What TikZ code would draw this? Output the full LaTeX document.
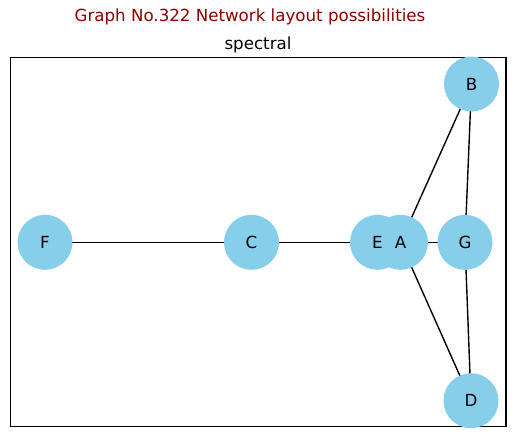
\documentclass[tikz,border=0pt]{standalone}
\usepackage{fontspec}
\setmainfont{DejaVu Sans}
\definecolor{nodeblue}{HTML}{87CEEB}
\definecolor{titlered}{HTML}{8B0000}
\begin{document}
\begin{tikzpicture}[x=0.72pt,y=-0.72pt,
  vertex/.style={circle,fill=nodeblue,minimum size=39.6pt,inner sep=0pt},
  vlabel/.style={inner sep=0pt,font=\fontsize{12}{14}\selectfont},
  edge/.style={line width=1pt,black}]
\useasboundingbox (0,0) rectangle (515,437);
\node[text=titlered,font=\fontsize{12}{14}\selectfont] (title) at (250,17) {Graph No.322 Network layout possibilities};
\node[font=\fontsize{12}{14}\selectfont] (sub) at (258,45) {spectral};
\draw[line width=0.8pt] (10.7,57.3) rectangle (506,426.7);
\coordinate (pF) at (45,242.3);
\coordinate (pC) at (251.5,242.3);
\coordinate (pE) at (377.5,242.3);
\coordinate (pA) at (400.5,242.3);
\coordinate (pG) at (465,242.3);
\coordinate (pB) at (471.5,84);
\coordinate (pD) at (471,400.7);
\draw[edge] (pF) -- (pC);
\draw[edge] (pC) -- (pE);
\draw[edge] (pE) -- (pA);
\draw[edge] (pA) -- (pB);
\draw[edge] (pA) -- (pG);
\draw[edge] (pA) -- (pD);
\draw[edge] (pB) -- (pG);
\draw[edge] (pG) -- (pD);
\node[vertex] (F) at (pF) {};
\node[vertex] (C) at (pC) {};
\node[vertex] (E) at (pE) {};
\node[vertex] (A) at (pA) {};
\node[vertex] (G) at (pG) {};
\node[vertex] (B) at (pB) {};
\node[vertex] (D) at (pD) {};
\node[vlabel] (lF) at (F) {F};
\node[vlabel] (lC) at (C) {C};
\node[vlabel] (lE) at (E) {E};
\node[vlabel] (lA) at (A) {A};
\node[vlabel] (lG) at (G) {G};
\node[vlabel] (lB) at (B) {B};
\node[vlabel] (lD) at (D) {D};
\end{tikzpicture}
\end{document}
